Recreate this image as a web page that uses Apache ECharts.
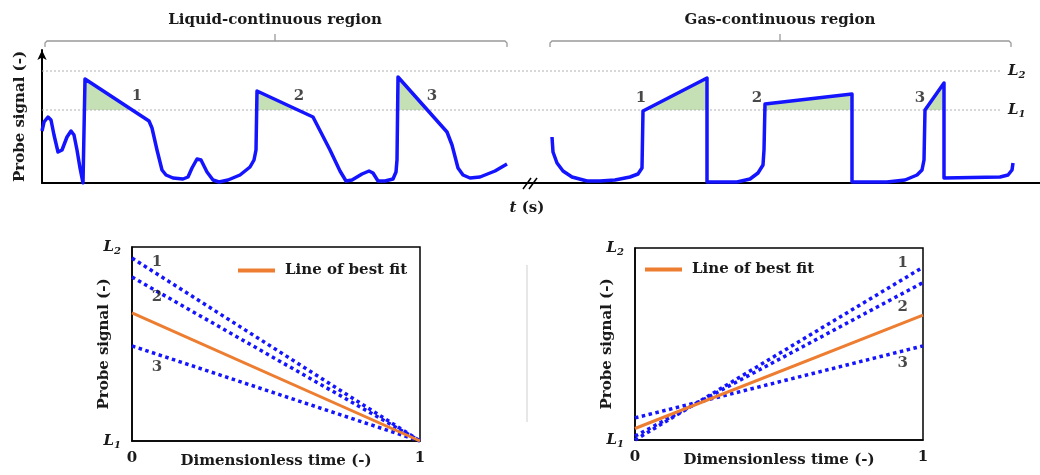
<!DOCTYPE html>
<html>
<head>
<meta charset="utf-8">
<script src="https://cdn.jsdelivr.net/npm/echarts@6/dist/echarts.min.js"></script>
<style>
  html, body { margin: 0; padding: 0; background: #fff; }
  #chart { width: 1040px; height: 475px; }
</style>
</head>
<body>
<div id="chart"></div>
<script>
// top panel: time in arbitrary units, signal in arbitrary units (0 = baseline)
const levelL1 = 73;
const levelL2 = 112;
const levelEnd = 958;

const liquidSignal = [
  [0, 52], [2, 61], [6, 66], [9, 63], [12, 48], [16, 31], [20, 33], [25, 46], [29, 52],
  [32, 48], [35, 33], [38, 15], [41, 0], [43, 104], [107, 62], [110, 55], [115, 33],
  [120, 13], [124, 8], [131, 5], [141, 4], [146, 6], [150, 15], [155, 24], [159, 23],
  [165, 11], [171, 3], [177, 1], [186, 3], [198, 8], [208, 16], [212, 23], [214, 33],
  [215, 92], [271, 66], [288, 33], [298, 12], [304, 2], [310, 3], [320, 9], [327, 12],
  [331, 10], [336, 2], [343, 2], [351, 4], [354, 11], [355, 23], [356, 106], [405, 51],
  [410, 38], [416, 15], [421, 8], [428, 5], [438, 6], [453, 12], [465, 19]
];

const gasSignal = [
  [510, 46], [511, 31], [515, 20], [521, 12], [530, 6], [545, 2], [558, 2], [573, 3],
  [588, 6], [596, 9], [600, 15], [601, 72], [665, 105], [665, 1], [695, 1], [708, 4],
  [716, 10], [721, 18], [722, 33], [723, 79], [810, 89], [810, 1], [845, 1], [863, 3],
  [875, 8], [880, 13], [882, 23], [883, 73], [902, 100], [902, 5], [958, 6], [966, 8],
  [970, 13], [971, 20]
];

// parts of each pulse above L1
const aboveL1 = [
  [[43, 104], [90, 73]],
  [[215, 92], [256, 73]],
  [[356, 106], [385, 73]],
  [[601, 73], [665, 105]],
  [[723, 79], [810, 89]],
  [[883, 73], [902, 100]]
];

const pulseLabels = [
  ['1', 95, 87], ['2', 257, 87], ['3', 390, 87],
  ['1', 599, 85], ['2', 715, 85], ['3', 878, 85]
];

// bottom panels: dimensionless time 0..1, signal 0 = L1, 1 = L2
const liquidFits = [
  [[0, 0.943], [1, 0]],
  [[0, 0.845], [1, 0]],
  [[0, 0.49], [1, 0]]
];
const liquidBest = [[0, 0.66], [1, 0]];
const liquidLabels = [['1', 0.087, 0.92], ['2', 0.087, 0.74], ['3', 0.087, 0.38]];

const gasFits = [
  [[0, 0.0], [1, 0.9]],
  [[0, 0.02], [1, 0.82]],
  [[0, 0.115], [1, 0.49]]
];
const gasBest = [[0, 0.06], [1, 0.65]];
const gasLabels = [['1', 0.93, 0.92], ['2', 0.93, 0.69], ['3', 0.93, 0.40]];

const FONT = 'DejaVu Serif';
const INK = '#1a1a1a';
const BLUE = '#1414ff';
const ORANGE = '#ed7d31';
const GREEN = '#c5e0b4';

const lText = {
  l: { fontFamily: FONT, fontWeight: 'bold', fontStyle: 'italic', fontSize: 15, color: INK },
  s: { fontFamily: FONT, fontWeight: 'bold', fontStyle: 'italic', fontSize: 10, color: INK, padding: [8, 0, 0, 0] }
};

const chart = echarts.init(document.getElementById('chart'));

function labelSeries(list, idx) {
  return {
    type: 'scatter',
    xAxisIndex: idx,
    yAxisIndex: idx,
    symbolSize: 0,
    silent: true,
    data: list.map(function (d) { return { name: d[0], value: [d[1], d[2]] }; }),
    label: {
      show: true,
      position: 'inside',
      formatter: '{b}',
      fontFamily: FONT,
      fontWeight: 'bold',
      fontSize: 15,
      color: INK
    },
    z: 5
  };
}

function dottedSeries(data, idx) {
  return {
    type: 'line',
    xAxisIndex: idx,
    yAxisIndex: idx,
    data: data,
    symbol: 'none',
    silent: true,
    lineStyle: { color: BLUE, width: 3.5, type: 'dotted' },
    z: 3
  };
}

function bottomAxes(idx) {
  return {
    x: {
      gridIndex: idx, type: 'value', min: 0, max: 1, interval: 1,
      axisLine: { lineStyle: { color: '#000', width: 1.5 } },
      axisTick: { show: false },
      splitLine: { show: false },
      axisLabel: { margin: 10, fontFamily: FONT, fontWeight: 'bold', fontSize: 15, color: INK },
      name: 'Dimensionless time (-)',
      nameLocation: 'middle',
      nameGap: 13,
      nameMoveOverlap: false,
      nameTextStyle: { fontFamily: FONT, fontWeight: 'bold', fontSize: 15, color: INK, verticalAlign: 'top' }
    },
    y: {
      gridIndex: idx, type: 'value', min: 0, max: 1, interval: 1,
      axisLine: { lineStyle: { color: '#000', width: 1.5 } },
      axisTick: { show: false },
      splitLine: { show: false },
      axisLabel: {
        margin: 11,
        formatter: function (v) { return v === 0 ? '{l|L}{s|1}' : '{l|L}{s|2}'; },
        rich: lText
      },
      name: 'Probe signal (-)',
      nameLocation: 'middle',
      nameGap: 20,
      nameMoveOverlap: false,
      nameTextStyle: { fontFamily: FONT, fontWeight: 'bold', fontSize: 15, color: INK }
    }
  };
}

const bl = bottomAxes(1);
const br = bottomAxes(2);

const series = [];
aboveL1.forEach(function (seg) {
  series.push({
    type: 'line', xAxisIndex: 0, yAxisIndex: 0, data: seg, symbol: 'none', silent: true,
    lineStyle: { width: 0 },
    areaStyle: { color: GREEN, opacity: 1, origin: levelL1 },
    z: 1
  });
});
[['1', levelL1], ['2', levelL2]].forEach(function (lv) {
  series.push({
    type: 'line', xAxisIndex: 0, yAxisIndex: 0, symbol: 'none', silent: true,
    data: [[0, lv[1]], [levelEnd, lv[1]]],
    lineStyle: { color: '#b0b0b0', width: 1, type: [2, 2] },
    endLabel: { show: true, distance: 8, formatter: '{l|L}{s|' + lv[0] + '}', rich: lText },
    z: 2
  });
});
series.push({
  type: 'line', xAxisIndex: 0, yAxisIndex: 0, data: liquidSignal, symbol: 'none', silent: true,
  lineStyle: { color: BLUE, width: 3.5, join: 'round' }, z: 4
});
series.push({
  type: 'line', xAxisIndex: 0, yAxisIndex: 0, data: gasSignal, symbol: 'none', silent: true,
  lineStyle: { color: BLUE, width: 3.5, join: 'round' }, z: 4
});
series.push(labelSeries(pulseLabels, 0));

liquidFits.forEach(function (d) { series.push(dottedSeries(d, 1)); });
series.push({
  name: 'Line of best fit', type: 'line', xAxisIndex: 1, yAxisIndex: 1, data: liquidBest,
  symbol: 'none', lineStyle: { color: ORANGE, width: 3 }, itemStyle: { color: ORANGE }, z: 4
});
series.push(labelSeries(liquidLabels, 1));

gasFits.forEach(function (d) { series.push(dottedSeries(d, 2)); });
series.push({
  name: 'Line of best fit', type: 'line', xAxisIndex: 2, yAxisIndex: 2, data: gasBest,
  symbol: 'none', lineStyle: { color: ORANGE, width: 3 }, itemStyle: { color: ORANGE }, z: 4
});
series.push(labelSeries(gasLabels, 2));

const legendBase = {
  data: ['Line of best fit'],
  icon: 'rect',
  itemWidth: 37,
  itemHeight: 4,
  itemGap: 10,
  selectedMode: false,
  textStyle: { fontFamily: FONT, fontWeight: 'bold', fontSize: 15, color: INK, padding: [0, 0, 0, 5] }
};

const bracketStyle = { stroke: '#999', lineWidth: 1.3, fill: null };
const titleStyle = { fontFamily: FONT, fontWeight: 'bold', fontSize: 15, fill: INK, align: 'center', verticalAlign: 'middle' };

const option = {
  animation: false,
  backgroundColor: '#fff',
  grid: [
    { left: 42, top: 50, width: 998, height: 133 },
    { left: 132, top: 247, width: 288, height: 194, show: true, borderColor: '#000', borderWidth: 1.5 },
    { left: 635, top: 248, width: 288, height: 192, show: true, borderColor: '#000', borderWidth: 1.5 }
  ],
  legend: [
    Object.assign({ left: 233, top: 258 }, legendBase),
    Object.assign({ left: 640, top: 257 }, legendBase)
  ],
  xAxis: [
    {
      gridIndex: 0, type: 'value', min: 0, max: 998,
      axisLine: { lineStyle: { color: '#000', width: 2 } },
      axisTick: { show: false }, axisLabel: { show: false }, splitLine: { show: false }
    },
    bl.x, br.x
  ],
  yAxis: [
    {
      gridIndex: 0, type: 'value', min: 0, max: 133,
      axisLine: { show: true, symbol: ['none', 'arrow'], symbolSize: [7, 10], lineStyle: { color: '#000', width: 2 } },
      axisTick: { show: false }, axisLabel: { show: false }, splitLine: { show: false },
      name: 'Probe signal (-)',
      nameLocation: 'middle',
      nameGap: 14,
      nameTextStyle: { fontFamily: FONT, fontWeight: 'bold', fontSize: 15, color: INK }
    },
    bl.y, br.y
  ],
  graphic: [
    { type: 'text', style: Object.assign({ text: 'Liquid-continuous region', x: 275, y: 20 }, titleStyle) },
    { type: 'text', style: Object.assign({ text: 'Gas-continuous region', x: 780, y: 20 }, titleStyle) },
    { type: 'polyline', shape: { points: [[45, 47], [45, 43], [47, 41], [505, 41], [507, 43], [507, 47]] }, style: bracketStyle },
    { type: 'line', shape: { x1: 275, y1: 41, x2: 275, y2: 34 }, style: bracketStyle },
    { type: 'polyline', shape: { points: [[550, 47], [550, 43], [552, 41], [1009, 41], [1011, 43], [1011, 47]] }, style: bracketStyle },
    { type: 'line', shape: { x1: 780, y1: 41, x2: 780, y2: 34 }, style: bracketStyle },
    { type: 'line', shape: { x1: 523, y1: 189, x2: 531, y2: 178 }, style: { stroke: '#000', lineWidth: 1.5 }, z: 10 },
    { type: 'line', shape: { x1: 529, y1: 189, x2: 537, y2: 178 }, style: { stroke: '#000', lineWidth: 1.5 }, z: 10 },
    {
      type: 'text',
      style: {
        text: '{i|t} (s)', x: 527, y: 208, align: 'center', verticalAlign: 'middle',
        fontFamily: FONT, fontWeight: 'bold', fontSize: 15, fill: INK,
        rich: { i: { fontFamily: FONT, fontWeight: 'bold', fontStyle: 'italic', fontSize: 15, fill: INK } }
      }
    },
    { type: 'line', shape: { x1: 527, y1: 265, x2: 527, y2: 422 }, style: { stroke: '#cfcfcf', lineWidth: 1 } }
  ],
  series: series
};

chart.setOption(option);
</script>
</body>
</html>
